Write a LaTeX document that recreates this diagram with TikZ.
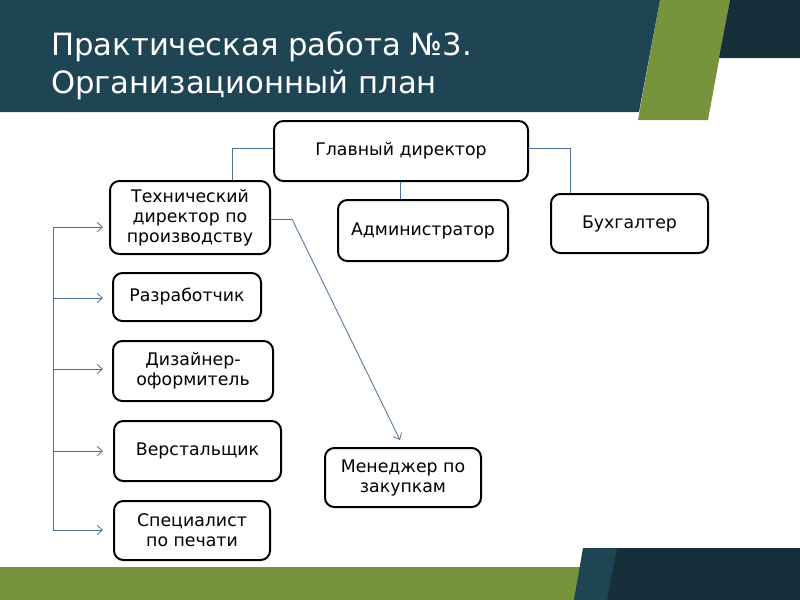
\documentclass[tikz,border=0pt]{standalone}
\usepackage{fontspec}
\setmainfont{DejaVu Sans}
\usetikzlibrary{arrows.meta}
\definecolor{hdr}{HTML}{1F4555}
\definecolor{dnavy}{HTML}{172F3A}
\definecolor{olive}{HTML}{77933C}
\definecolor{conn}{HTML}{4A6E95}
\tikzset{
  box/.style={draw=black, line width=1.5pt, rounded corners=7pt, align=center, inner sep=0pt, font=\fontsize{13}{15}\selectfont},
  link/.style={draw=conn, line width=0.6pt},
  arr/.style={link, -{Straight Barb[length=4pt,width=7pt]}},
  ttl/.style={anchor=base west, text=white, inner sep=0pt, font=\fontsize{23}{28}\selectfont}
}
\begin{document}
\begin{tikzpicture}[x=0.75pt,y=-0.75pt]
\useasboundingbox (0,0) rectangle (800,600);
% header
\fill[olive] (660,0) -- (730,0) -- (708,120) -- (638,120) -- cycle;
\fill[dnavy] (730,0) -- (800,0) -- (800,58) -- (719,58) -- cycle;
\fill[hdr] (0,0) -- (660,0) -- (639,112) -- (0,112) -- cycle;
\node[ttl] (title1) at (51,55) {Практическая работа №3.};
\node[ttl] (title2) at (51,93) {Организационный план};
% footer
\fill[olive] (0,567) rectangle (580,600);
\fill[hdr] (583,548) -- (800,548) -- (800,600) -- (574,600) -- cycle;
\fill[dnavy] (617,548) -- (800,548) -- (800,600) -- (607,600) -- cycle;
% boxes
\node[box, minimum width=254*0.75pt, minimum height=60*0.75pt] (gd) at (401,151) {Главный директор};
\node[box, minimum width=160*0.75pt, minimum height=73*0.75pt] (td) at (190,217.5) {Технический\\директор по\\производству};
\node[box, minimum width=170*0.75pt, minimum height=61*0.75pt] (adm) at (423,230.5) {Администратор};
\node[box, minimum width=157*0.75pt, minimum height=59*0.75pt] (buh) at (629.5,223.5) {Бухгалтер};
\node[box, minimum width=148*0.75pt, minimum height=48*0.75pt] (dev) at (187,297) {Разработчик};
\node[box, minimum width=160*0.75pt, minimum height=60*0.75pt] (des) at (193,371) {Дизайнер-\\оформитель};
\node[box, minimum width=167*0.75pt, minimum height=60*0.75pt] (ver) at (197.5,451) {Верстальщик};
\node[box, minimum width=156*0.75pt, minimum height=59*0.75pt] (spec) at (192,530.5) {Специалист\\по печати};
\node[box, minimum width=156*0.75pt, minimum height=59*0.75pt] (men) at (403,477.5) {Менеджер по\\закупкам};
% connectors
\draw[link] (gd.west |- 0,148) -| (td.north -| 232,0);
\draw[link] (gd.south -| 400,0) -- (adm.north -| 400,0);
\draw[link] (gd.east |- 0,148) -| (buh.north -| 570,0);
\coordinate (bend) at (292,219);
\coordinate (mtip) at (400,440);
\draw[link] (td.east |- 0,219) -- (bend);
\draw[arr] (bend) -- (mtip);
% left bracket
\coordinate (ltop) at (53,227);
\coordinate (lbot) at (53,530);
\draw[link] (ltop) -- (lbot);
\coordinate (a1) at (103,227);
\coordinate (a2) at (103,298);
\coordinate (a3) at (103,369);
\coordinate (a4) at (103,451);
\coordinate (a5) at (103,530);
\draw[arr] (ltop) -- (a1);
\draw[arr] (ltop |- a2) -- (a2);
\draw[arr] (ltop |- a3) -- (a3);
\draw[arr] (ltop |- a4) -- (a4);
\draw[arr] (lbot) -- (a5);
\end{tikzpicture}
\end{document}
